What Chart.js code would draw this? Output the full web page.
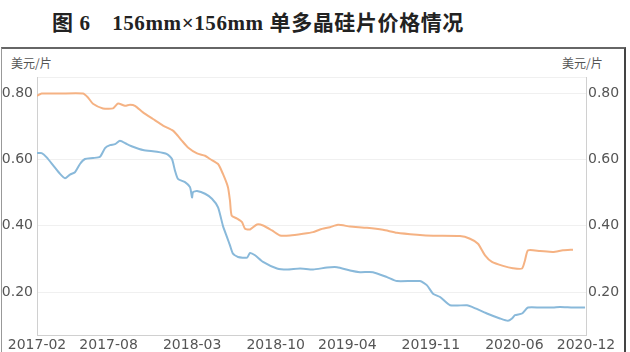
<!DOCTYPE html>
<html>
<head>
<meta charset="utf-8">
<script src="https://cdn.jsdelivr.net/npm/chart.js@4/dist/chart.umd.min.js"></script>
<style>
  html, body { margin: 0; padding: 0; background: #fff; }
  #wrap { position: relative; width: 630px; height: 352px; overflow: hidden; }
  #title { position: absolute; left: 52px; top: 6px; font-family: "Liberation Serif", "Noto Sans CJK SC", serif; font-weight: bold; font-size: 21px; color: #222; white-space: nowrap; letter-spacing: 0.6px; }
  #frame { position: absolute; left: 1px; top: 47px; width: 622px; height: 330px; border-top: 2px solid #666; border-left: 1px solid #999; border-right: 2px solid #444; }
  .unit { position: absolute; top: 54px; font-family: "Noto Sans CJK SC", sans-serif; font-size: 12px; color: #555; }
  #chartBox { position: absolute; left: 0; top: 0; width: 630px; height: 352px; }
</style>
</head>
<body>
<div id="wrap">
  <div id="title">图 6　156mm×156mm 单多晶硅片价格情况</div>
  <div id="frame"></div>
  <div class="unit" style="left:11px;">美元/片</div>
  <div class="unit" style="left:562px;">美元/片</div>
  <div id="chartBox"><canvas id="c" width="630" height="352"></canvas></div>
</div>
<script>
// x positions are months since 2017-02
const tickMonths = [0, 6, 13, 20, 26, 33, 40, 46];
const tickLabels = ["2017-02", "2017-08", "2018-03", "2018-10", "2019-04", "2019-11", "2020-06", "2020-12"];
const yTicks = [0.2, 0.4, 0.6, 0.8];

const monoMonths = [0, 0.39, 1.93, 3.85, 4.27, 4.69, 5.53, 6.37, 6.79, 7.37, 7.79, 8.21, 8.88, 9.72, 10.56, 11.39, 11.81, 12.15, 12.65, 13.41, 14.08, 14.5, 15.17, 15.58, 16.0, 16.17, 16.31, 16.76, 17.18, 17.43, 17.85, 18.43, 18.94, 19.69, 20.36, 21.2, 22.29, 23.13, 23.71, 24.55, 25.22, 26.23, 27.65, 28.99, 30.16, 31.84, 33.18, 35.44, 36.28, 36.95, 37.54, 38.12, 39.05, 39.88, 40.64, 40.89, 41.14, 42.15, 43.23, 44.07, 44.91];
const monoPrice = [0.793, 0.80, 0.80, 0.80, 0.788, 0.769, 0.755, 0.755, 0.77, 0.763, 0.766, 0.763, 0.743, 0.723, 0.703, 0.688, 0.672, 0.657, 0.637, 0.619, 0.612, 0.602, 0.587, 0.557, 0.517, 0.476, 0.431, 0.422, 0.411, 0.391, 0.389, 0.404, 0.401, 0.386, 0.371, 0.371, 0.376, 0.381, 0.389, 0.396, 0.403, 0.398, 0.394, 0.388, 0.379, 0.373, 0.370, 0.369, 0.361, 0.346, 0.311, 0.291, 0.279, 0.272, 0.271, 0.296, 0.326, 0.324, 0.321, 0.326, 0.328];

const multiMonths = [0, 0.39, 0.81, 1.37, 1.93, 2.35, 2.76, 3.18, 3.6, 4.02, 4.69, 5.28, 5.7, 6.12, 6.54, 6.95, 7.54, 8.04, 8.88, 10.05, 10.89, 11.31, 11.56, 11.81, 12.4, 12.82, 12.99, 13.07, 13.41, 14.08, 14.66, 15.17, 15.58, 15.92, 16.17, 16.42, 16.84, 17.6, 17.85, 18.27, 18.94, 20.11, 20.95, 22.04, 23.13, 24.3, 25.14, 26.23, 27.06, 28.15, 29.33, 30.16, 32.09, 32.68, 33.18, 33.77, 34.61, 36.03, 36.45, 37.7, 38.79, 39.46, 39.8, 40.05, 40.64, 41.14, 42.15, 43.23, 43.82, 44.91, 45.92];
const multiPrice = [0.620, 0.620, 0.607, 0.582, 0.557, 0.544, 0.555, 0.562, 0.587, 0.602, 0.605, 0.609, 0.635, 0.644, 0.647, 0.657, 0.647, 0.639, 0.629, 0.624, 0.617, 0.602, 0.567, 0.542, 0.532, 0.517, 0.486, 0.502, 0.505, 0.497, 0.482, 0.456, 0.400, 0.366, 0.341, 0.316, 0.306, 0.304, 0.318, 0.311, 0.291, 0.271, 0.268, 0.271, 0.268, 0.274, 0.275, 0.265, 0.260, 0.260, 0.245, 0.233, 0.233, 0.220, 0.195, 0.185, 0.160, 0.160, 0.155, 0.135, 0.120, 0.113, 0.120, 0.130, 0.135, 0.153, 0.153, 0.153, 0.155, 0.153, 0.153];

const toPts = (xs, ys) => xs.map((x, i) => ({ x: x, y: ys[i] }));

const tickFont = { family: "'DejaVu Sans', 'Noto Sans', sans-serif", size: 14 };

new Chart(document.getElementById('c'), {
  type: 'line',
  data: {
    datasets: [
      { label: '单晶硅片', data: toPts(monoMonths, monoPrice), borderColor: '#f5b283', borderWidth: 2, pointRadius: 0, tension: 0.2, fill: false, yAxisID: 'y' },
      { label: '多晶硅片', data: toPts(multiMonths, multiPrice), borderColor: '#89b9da', borderWidth: 2, pointRadius: 0, tension: 0.2, fill: false, yAxisID: 'y' }
    ]
  },
  options: {
    responsive: false,
    animation: false,
    layout: { padding: { top: 77, left: 0, right: 0, bottom: 0 } },
    plugins: { legend: { display: false }, tooltip: { enabled: false } },
    scales: {
      x: {
        type: 'linear', min: 0, max: 46,
        afterBuildTicks: s => { s.ticks = tickMonths.map(v => ({ value: v })); },
        afterFit: s => { s.height = 17; },
        ticks: { autoSkip: false, maxRotation: 0, padding: 2, color: '#555', font: tickFont,
          callback: (v) => { const i = tickMonths.indexOf(v); return i >= 0 ? tickLabels[i] : ''; } },
        grid: { display: false, drawTicks: false },
        border: { display: true, color: '#d0d0d0', width: 1 }
      },
      y: {
        position: 'left', min: 0.07, max: 0.85,
        afterBuildTicks: s => { s.ticks = yTicks.concat([0.85]).map(v => ({ value: v })); },
        afterFit: s => { s.width = 37; },
        ticks: { padding: 4, color: '#555', font: tickFont,
          callback: v => (yTicks.includes(v) ? v.toFixed(2) : '') },
        grid: { color: '#f0f0f0', lineWidth: 1, drawTicks: false },
        border: { display: true, color: '#d0d0d0', width: 1 }
      },
      y2: {
        position: 'right', min: 0.07, max: 0.85,
        afterBuildTicks: s => { s.ticks = yTicks.map(v => ({ value: v })); },
        afterFit: s => { s.width = 44; },
        ticks: { padding: 2, color: '#555', font: tickFont,
          callback: v => v.toFixed(2) },
        grid: { display: false, drawTicks: false },
        border: { display: true, color: '#d0d0d0', width: 1 }
      }
    }
  }
});
</script>
</body>
</html>
